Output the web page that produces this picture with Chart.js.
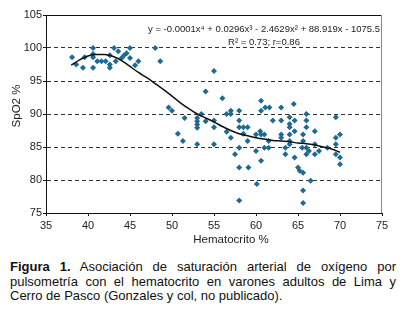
<!DOCTYPE html>
<html>
<head>
<meta charset="utf-8">
<script src="https://cdn.jsdelivr.net/npm/chart.js@4.4.1/dist/chart.umd.min.js"></script>
<style>
body { margin: 0; background: #fff; width: 406px; height: 319px; overflow: hidden; font-family: "Liberation Sans", Arial, sans-serif; }
#wrap { position: absolute; left: 0; top: 0; width: 406px; height: 250px; }
#caption { position: absolute; left: 10px; top: 260px; width: 386px; font-size: 13px; line-height: 14.5px; text-align: justify; color: #111; }
</style>
</head>
<body>
<div id="wrap"><canvas id="chart" width="406" height="250"></canvas></div>
<div id="caption"><b>Figura 1.</b> Asociación de saturación arterial de oxígeno por pulsometría con el hematocrito en varones adultos de Lima y Cerro de Pasco (Gonzales y col, no publicado).</div>
<script>
// hematocrito (%) of each subject
var hematocrito = [
  38.1, 38.6, 39.4, 39.6, 40.6, 40.6, 40.6, 40.6, 41.1, 41.6, 42.1, 42.6, 42.6, 42.6, 43.1, 43.3,
  43.6, 44.0, 44.3, 44.6, 45.0, 45.0, 45.6, 46.0, 48.0, 48.6,
  49.6, 50.0, 50.7, 51.3, 51.5, 53.0, 53.0, 53.0, 53.0, 53.0, 53.5, 54.0, 54.0, 55.0, 55.0, 55.0,
  55.0, 56.0, 56.5, 56.5, 57.0, 57.0, 57.0, 57.5, 58.0, 58.0, 58.0, 58.0, 58.0, 58.0, 58.5, 58.5,
  59.0, 59.0, 59.1, 60.0, 60.0, 60.1, 60.5, 60.6, 60.6, 60.6, 60.6, 61.0, 61.0, 61.1, 61.5, 61.5,
  61.6, 62.0, 63.0, 63.0, 63.0, 63.0, 63.5, 63.5, 64.0, 64.0, 64.0, 64.0, 64.0, 64.0, 64.5, 64.6,
  64.6, 64.6, 65.0, 65.2, 65.6, 65.6, 65.5, 65.6, 65.6, 65.6, 66.0, 66.0, 66.0, 66.0, 66.0, 66.3,
  66.5, 67.0, 67.0, 67.0, 67.5, 68.5, 69.5, 69.5, 69.5, 69.5, 70.0, 70.0, 70.0
];
// SpO2 (%) of each subject
var spo2 = [
  98.6, 97.5, 97.0, 98.6, 100, 99.1, 98.6, 97.0, 98.0, 98.0, 98.0, 98.9, 97.5, 97.0, 100, 98.0,
  99.5, 98.5, 98.9, 99.2, 100, 98.5, 97.4, 98.0, 100, 98.0,
  91.0, 90.5, 87.0, 85.9, 89.4, 89.4, 88.9, 88.4, 87.9, 85.4, 90.0, 93.4, 88.9, 96.5, 89.0, 88.0,
  85.4, 92.4, 90.0, 87.3, 90.5, 90.0, 86.4, 83.9, 90.5, 89.0, 88.0, 84.9, 81.9, 76.9, 88.0, 87.0,
  88.0, 85.9, 81.9, 86.9, 84.4, 79.4, 87.4, 92.0, 90.5, 86.9, 82.9, 86.9, 84.9, 91.0, 84.9, 85.9,
  91.0, 89.0, 91.0, 89.0, 86.9, 86.4, 84.9, 83.9, 89.5, 88.5, 88.0, 86.9, 85.9, 85.4, 91.5, 89.0,
  87.4, 83.4, 81.9, 81.4, 86.9, 85.9, 84.9, 81.1, 78.4, 76.5, 90.0, 89.0, 88.0, 84.9, 83.9, 84.4,
  79.9, 87.4, 85.4, 83.9, 84.4, 84.9, 89.5, 86.4, 85.4, 83.9, 86.9, 83.4, 82.4
];
// polynomial trend line
var trendX = [38, 39, 40, 41, 42, 43, 44, 45, 46, 47, 48, 49, 50, 51, 52, 53, 54, 55, 56, 57, 58, 59, 60, 61, 62, 63, 64, 65, 66, 67, 68, 69, 70];
var trendY = [97.4, 98.2, 98.8, 99.0, 99.0, 98.7, 98.1, 97.2, 96.3, 95.5, 94.6, 93.7, 92.7, 91.7, 90.8, 90.0, 89.4, 88.8, 88.1, 87.5, 87.0, 86.7, 86.4, 86.2, 86.0, 85.9, 85.8, 85.6, 85.5, 85.3, 85.0, 84.7, 84.2];

var xTicks = [35, 40, 45, 50, 55, 60, 65, 70, 75];
var yTicks = [75, 80, 85, 90, 95, 100, 105];
var equation = "y = -0.0001x\u2074 + 0.0296x\u00b3 - 2.4629x\u00b2 + 88.919x - 1075.5";
var rLabel = "R\u00b2 = 0.73; r=0.86";
var xTitle = "Hematocrito %";
var yTitle = "SpO2 %";

Chart.defaults.font.family = '"Liberation Sans", Arial, sans-serif';
Chart.defaults.color = '#222';

var points = hematocrito.map(function(h, i) { return { x: h, y: spo2[i] }; });
var trend = trendX.map(function(h, i) { return { x: h, y: trendY[i] }; });

// extra drawing: frame top/right, equation and axis titles
var extras = {
  id: 'extras',
  afterDraw: function(chart) {
    var ctx = chart.ctx, a = chart.chartArea;
    ctx.save();
    ctx.strokeStyle = '#111';
    ctx.lineWidth = 1;
    ctx.beginPath();
    ctx.moveTo(a.left, a.top + 0.5);
    ctx.lineTo(a.right, a.top + 0.5);
    ctx.stroke();
    ctx.strokeStyle = '#888';
    ctx.beginPath();
    ctx.moveTo(a.right - 0.5, a.top);
    ctx.lineTo(a.right - 0.5, a.bottom);
    ctx.stroke();

    ctx.fillStyle = '#222';
    ctx.textAlign = 'center';
    ctx.textBaseline = 'middle';
    ctx.font = '9.5px "Liberation Sans", Arial, sans-serif';
    ctx.fillText(equation, 264, 29);
    ctx.fillText(rLabel, 264, 42);

    ctx.font = '11.5px "Liberation Sans", Arial, sans-serif';
    ctx.fillText(xTitle, 231, 240);
    ctx.translate(17, 106);
    ctx.rotate(-Math.PI / 2);
    ctx.fillText(yTitle, 0, 0);
    ctx.restore();
  }
};

var ctx = document.getElementById('chart').getContext('2d');
var chart = new Chart(ctx, {
  type: 'scatter',
  data: {
    datasets: [{
      type: 'line',
      data: trend,
      borderColor: '#111',
      borderWidth: 1.5,
      pointRadius: 0,
      fill: false,
      cubicInterpolationMode: 'monotone'
    }, {
      data: points,
      pointStyle: 'rectRot',
      pointRadius: 3,
      pointBorderWidth: 0,
      backgroundColor: '#1d6a93',
      borderColor: '#1d6a93'
    }]
  },
  options: {
    responsive: false,
    animation: false,
    layout: { padding: { top: 15, right: 24, left: 0, bottom: 0 } },
    plugins: { legend: { display: false }, tooltip: { enabled: false } },
    scales: {
      x: {
        type: 'linear',
        min: 35,
        max: 75,
        afterBuildTicks: function(s) { s.ticks = xTicks.map(function(v) { return { value: v }; }); },
        afterFit: function(s) { s.height = 37; },
        grid: { color: 'rgba(0,0,0,0)', tickColor: '#111', tickLength: 3 },
        border: { color: '#111', width: 1 },
        ticks: { font: { size: 11 }, padding: 3, maxRotation: 0 }
      },
      y: {
        type: 'linear',
        min: 75,
        max: 105,
        afterBuildTicks: function(s) { s.ticks = yTicks.map(function(v) { return { value: v }; }); },
        afterFit: function(s) { s.width = 46; },
        grid: {
          color: function(c) { return (c.tick && (c.tick.value === 75 || c.tick.value === 105)) ? 'rgba(0,0,0,0)' : '#333'; },
          tickColor: '#111',
          tickLength: 3
        },
        border: { color: '#111', width: 1, dash: [4, 3] },
        ticks: { font: { size: 11 }, padding: 1 }
      }
    }
  },
  plugins: [extras]
});
</script>
</body>
</html>
